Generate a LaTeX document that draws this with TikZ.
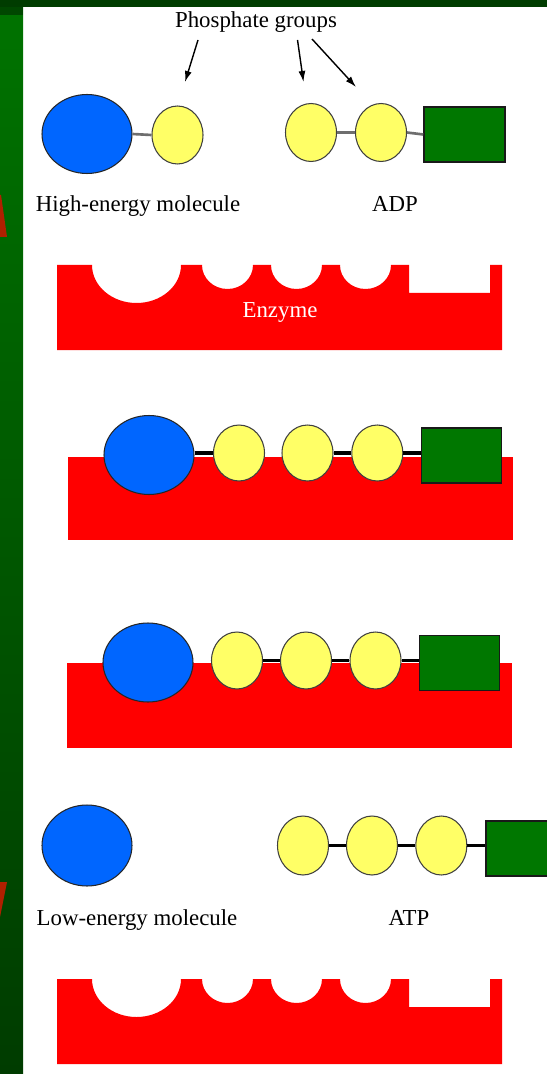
\documentclass[tikz,border=0pt]{standalone}
\usepackage{fontspec}
\setmainfont{Liberation Serif}
\usetikzlibrary{shapes.geometric,arrows.meta}
\definecolor{molblue}{HTML}{0066FF}
\definecolor{phosyellow}{HTML}{FFFF66}
\definecolor{basegreen}{HTML}{007700}
\definecolor{enzred}{HTML}{FF0000}
\definecolor{bondgray}{HTML}{6E6E6E}
\definecolor{slidegreen}{HTML}{007300}
\definecolor{slidedark}{HTML}{003C00}
\definecolor{arrowred}{HTML}{B02000}

\begin{document}
\begin{tikzpicture}
  [x=0.02cm,y=-0.02cm,
  molecule/.style={ellipse,draw=black!85,line width=0.6pt,fill=molblue,
inner sep=0pt,minimum width=1.8cm,minimum height=1.58cm},
  phosphate/.style={ellipse,draw=black!75,line width=0.6pt,fill=phosyellow,
inner sep=0pt,minimum width=1.02cm,minimum height=1.16cm},
  adenosine/.style={rectangle,draw=black!90,line width=0.9pt,fill=basegreen,
inner sep=0pt,minimum width=1.62cm,minimum height=1.1cm},
  molname/.style={font=\fontsize{13}{15}\selectfont,anchor=base,inner sep=0pt},
  bond/.style={line width=1.8pt},
  weakbond/.style={draw=bondgray,line width=1.5pt},
  pointer/.style={-{Latex[length=2.2mm,width=1.4mm]},line width=0.8pt},
  enzyme/.pic={
    \fill[enzred] (0,0) -- (35,0) arc[start angle=180,end angle=0,x radius=44.5,y radius=38]
      -- (145,0) arc[start angle=180,end angle=0,x radius=25.5,y radius=24]
      -- (214,0) arc[start angle=180,end angle=0,x radius=25.5,y radius=24]
      -- (283,0) arc[start angle=180,end angle=0,x radius=25.5,y radius=24]
      -- (352,0) -- (352,28) -- (433,28) -- (433,0) -- (445,0) -- (445,85) -- (0,85) -- cycle;
  }]
  \clip (0,0) rectangle (547,1074);
  \fill[white] (0,0) rectangle (547,1074);
  % slide frame
  \shade[top color=slidegreen,bottom color=slidedark] (0,0) rectangle (23,1074);
  \fill[slidedark] (0,0) rectangle (547,7);
  \fill[slidedark!80!slidegreen] (0,7) rectangle (23,15);
  \fill[arrowred] (0,195) -- (1,195) -- (7,237) -- (0,237) -- cycle;
  \fill[arrowred] (0,882) -- (7,882) -- (0,917) -- cycle;

  % before: free molecules
  \node[molname] (groups) at (256,28) {Phosphate groups};
  \node[molecule] (hem) at (87,134) {};
  \node[phosphate] (p1) at (177.5,135) {};
  \node[phosphate] (adp1) at (311,132.5) {};
  \node[phosphate] (adp2) at (381,132.5) {};
  \node[adenosine] (adpbase) at (464.5,134.5) {};
  \draw[weakbond] (hem.east) -- (p1.west);
  \draw[weakbond] (adp1.east) -- (adp2.west);
  \draw[weakbond] (adp2.east) -- (adpbase.west);
  \node[molname] (hemname) at (138,212) {High-energy molecule};
  \node[molname] (adpname) at (395,212) {ADP};
  \coordinate (from1) at (198,40);
  \coordinate (to1) at (185,82);
  \coordinate (from2) at (297.5,40);
  \coordinate (to2) at (303.5,82);
  \coordinate (from3) at (312,39);
  \coordinate (to3) at (356,87);
  \draw[pointer] (from1) -- (to1);
  \draw[pointer] (from2) -- (to2);
  \draw[pointer] (from3) -- (to3);

  \pic at (57,265) {enzyme};
  \node[molname,text=white] (enzname) at (280,317) {Enzyme};

  % bound to the enzyme
  \fill[enzred] (68,457) rectangle (513,540);
  \node[molecule] (hemb) at (149,455) {};
  \node[phosphate,minimum height=1.12cm] (pb1) at (239,453) {};
  \node[phosphate,minimum height=1.12cm] (pb2) at (307.5,453) {};
  \node[phosphate,minimum height=1.12cm] (pb3) at (377.3,453) {};
  \node[adenosine,minimum width=1.6cm] (baseb) at (461.5,455.5) {};
  \draw[bond] (hemb.east |- pb1.west) -- (pb1.west);
  \draw[bond] (pb2.east) -- (pb3.west);
  \draw[bond] (pb3.east) -- (pb3.east -| baseb.west);

  % phosphate handed over
  \fill[enzred] (67,663) rectangle (512,748);
  \node[molecule] (hemc) at (148,662.5) {};
  \node[phosphate,minimum height=1.14cm] (pc1) at (237,660.5) {};
  \node[phosphate,minimum height=1.14cm] (pc2) at (306,660.5) {};
  \node[phosphate,minimum height=1.14cm] (pc3) at (375.5,660.5) {};
  \node[adenosine,minimum width=1.6cm] (basec) at (459.5,663) {};
  \draw[bond] (pc1.east) -- (pc2.west);
  \draw[bond] (pc2.east) -- (pc3.west);
  \draw[bond] (pc3.east) -- (pc3.east -| basec.west);

  % after: products released
  \node[molecule,minimum height=1.62cm] (lem) at (87,845.5) {};
  \node[phosphate,minimum height=1.18cm] (atp1) at (303,845.5) {};
  \node[phosphate,minimum height=1.18cm] (atp2) at (372,845.5) {};
  \node[phosphate,minimum height=1.18cm] (atp3) at (441.3,845.5) {};
  \node[adenosine,anchor=west] (atpbase) at (485,848.5) {};
  \draw[bond] (atp1.east) -- (atp2.west);
  \draw[bond] (atp2.east) -- (atp3.west);
  \draw[bond] (atp3.east) -- (atp3.east -| atpbase.west);
  \node[molname] (lemname) at (137,925) {Low-energy molecule};
  \node[molname] (atpname) at (409,925) {ATP};

  \pic at (57,979) {enzyme};
\end{tikzpicture}
\end{document}
